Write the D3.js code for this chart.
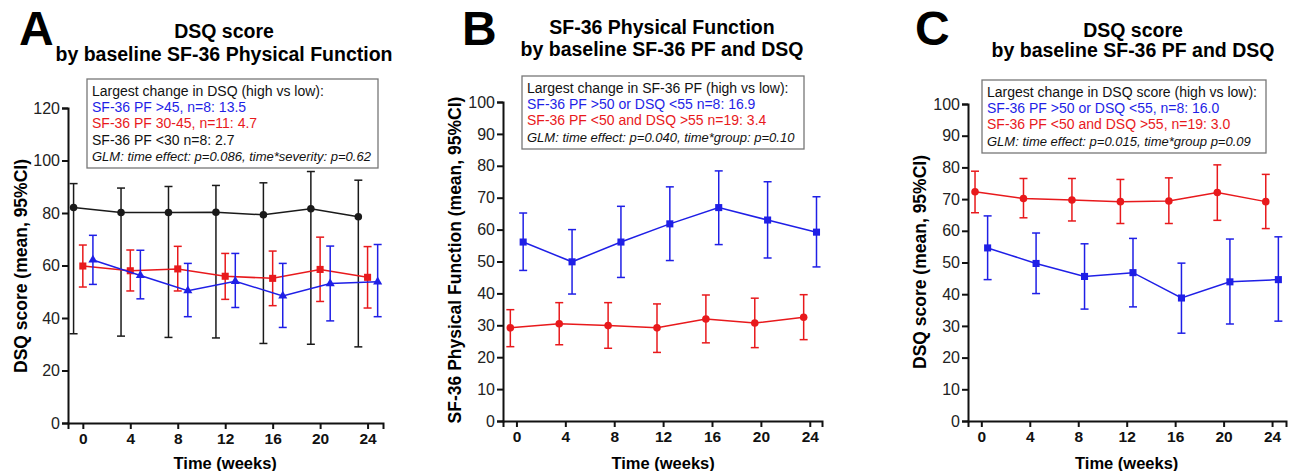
<!DOCTYPE html>
<html>
<head>
<meta charset="utf-8">
<script src="https://cdn.jsdelivr.net/npm/d3@7"></script>
<style>
  body { margin: 0; background: #fff; }
  svg { display: block; font-family: "Liberation Sans", Arial, Helvetica, sans-serif; }
</style>
</head>
<body>
<svg id="chart" width="1291" height="471"></svg>
<script>
// values (mean, lower and upper 95% CI)
const weeks = [0, 4, 8, 12, 16, 20, 24];
const xTicks = [0, 4, 8, 12, 16, 20, 24];

// panel A - DSQ by baseline PF (3 groups)
const aBlueMean = [62.1, 56.2, 50.4, 54.0, 48.4, 53.1, 53.8];
const aBlueLo   = [52.8, 47.3, 40.5, 44.0, 36.4, 38.9, 40.5];
const aBlueHi   = [71.5, 65.8, 60.8, 64.6, 60.8, 67.4, 68.0];
const aRedMean  = [59.8, 58.0, 58.7, 55.9, 55.1, 58.5, 55.5];
const aRedLo    = [51.8, 50.3, 50.3, 47.1, 44.7, 46.3, 43.8];
const aRedHi    = [67.8, 65.9, 67.3, 64.6, 65.5, 70.8, 67.2];
const aBlackMean = [82.1, 80.2, 80.2, 80.3, 79.3, 81.6, 78.6];
const aBlackLo   = [34.0, 33.1, 32.6, 32.4, 30.3, 30.0, 29.0];
const aBlackHi   = [91.2, 89.5, 90.1, 90.5, 91.5, 95.8, 92.5];

// panel B - SF-36 PF by baseline PF and DSQ
const bBlueMean = [56.1, 49.9, 56.1, 61.8, 66.9, 63.0, 59.2];
const bBlueLo   = [47.2, 39.8, 45.0, 50.3, 55.3, 51.1, 48.3];
const bBlueHi   = [65.2, 60.0, 67.3, 73.4, 78.4, 75.0, 70.3];
const bRedMean  = [29.2, 30.5, 29.9, 29.2, 32.0, 30.7, 32.5];
const bRedLo    = [23.3, 23.9, 22.8, 21.5, 24.5, 23.0, 25.5];
const bRedHi    = [34.9, 37.1, 37.1, 36.7, 39.5, 38.5, 39.6];

// panel C - DSQ by baseline PF and DSQ
const cBlueMean = [54.6, 49.7, 45.6, 46.8, 38.8, 43.9, 44.6];
const cBlueLo   = [44.6, 40.2, 35.3, 36.0, 27.7, 30.6, 31.5];
const cBlueHi   = [64.7, 59.3, 55.9, 57.6, 49.8, 57.4, 58.1];
const cRedMean  = [72.3, 70.2, 69.7, 69.2, 69.4, 72.1, 69.2];
const cRedLo    = [65.7, 64.1, 63.1, 62.3, 62.3, 63.3, 60.7];
const cRedHi    = [78.8, 76.5, 76.5, 76.2, 76.7, 80.8, 77.8];

const legendA = ["Largest change in DSQ (high vs low):", "SF-36 PF >45, n=8: 13.5",
  "SF-36 PF 30-45,  n=11: 4.7", "SF-36 PF <30 n=8: 2.7",
  "GLM: time effect: p=0.086, time*severity: p=0.62"];
const legendB = ["Largest change in SF-36 PF (high vs low):", "SF-36 PF >50 or DSQ <55 n=8: 16.9",
  "SF-36 PF <50 and DSQ >55 n=19: 3.4", "GLM: time effect: p=0.040, time*group: p=0.10"];
const legendC = ["Largest change in DSQ score (high vs low):", "SF-36 PF >50 or DSQ <55, n=8: 16.0",
  "SF-36 PF <50 and DSQ >55, n=19: 3.0", "GLM: time effect: p=0.015, time*group p=0.09"];

const BLUE = "#1f1fe6", RED = "#e8191c", BLACK = "#1a1a1a";

const svg = d3.select("#chart");

function zipSeries(mean, lo, hi) {
  return weeks.map(function(w, i) { return { w: w, m: mean[i], lo: lo[i], hi: hi[i] }; });
}

function drawPanel(p) {
  let g = svg.append("g");
  let x = d3.scaleLinear().domain(p.xDomain).range(p.xRange);
  let y = d3.scaleLinear().domain([0, p.yMax]).range(p.yRange);

  // axes
  let xa = g.append("g")
    .attr("transform", "translate(0," + p.yRange[0] + ")")
    .call(d3.axisBottom(x).tickValues(xTicks).tickSizeOuter(0).tickSize(6).tickPadding(4));
  xa.selectAll("text").attr("font-size", 15.5).attr("font-weight", "bold").attr("fill", "#111")
    .attr("font-family", "Liberation Sans, Arial, sans-serif");

  let ya = g.append("g")
    .attr("transform", "translate(" + p.xRange[0] + ",0)")
    .call(d3.axisLeft(y).ticks(p.yMax / p.yStep).tickSizeOuter(0).tickSize(6).tickPadding(2));
  ya.selectAll("text").attr("font-size", 16).attr("fill", "#222")
    .attr("font-family", "Liberation Sans, Arial, sans-serif");

  g.selectAll(".domain, .tick line").attr("stroke", "#111").attr("stroke-width", 2);

  // axis titles
  g.append("text")
    .attr("x", (x(0) + x(24)) / 2).attr("y", 469)
    .attr("text-anchor", "middle").attr("font-size", 16.5).attr("font-weight", "bold")
    .text("Time (weeks)");
  g.append("text")
    .attr("transform", "translate(" + p.yTitleX + "," + p.yTitleY + ") rotate(-90)")
    .attr("text-anchor", "middle").attr("font-size", 17.5).attr("font-weight", "bold")
    .text(p.yTitle);

  // panel letter + title
  g.append("text").attr("x", p.letterX).attr("y", 45)
    .attr("font-size", 48).attr("font-weight", "bold").text(p.letter);
  p.title.forEach(function(t, i) {
    g.append("text").attr("x", p.titleX).attr("y", p.titleY[i])
      .attr("text-anchor", "middle").attr("font-size", 19.5).attr("font-weight", "bold")
      .text(t);
  });

  // series
  p.series.forEach(function(s) {
    let data = zipSeries(s.mean, s.lo, s.hi);
    let px = function(d) { return x(d.w + s.dx); };
    let sg = g.append("g");

    sg.append("path").datum(data)
      .attr("fill", "none").attr("stroke", s.color).attr("stroke-width", 1.5)
      .attr("d", d3.line().x(px).y(function(d) { return y(d.m); }));

    let eb = sg.selectAll(".eb").data(data).enter().append("g");
    eb.append("line")
      .attr("x1", px).attr("x2", px)
      .attr("y1", function(d) { return y(d.lo); }).attr("y2", function(d) { return y(d.hi); })
      .attr("stroke", s.color).attr("stroke-width", 1.5);
    [function(d) { return y(d.lo); }, function(d) { return y(d.hi); }].forEach(function(fy) {
      eb.append("line")
        .attr("x1", function(d) { return px(d) - 4; }).attr("x2", function(d) { return px(d) + 4; })
        .attr("y1", fy).attr("y2", fy)
        .attr("stroke", s.color).attr("stroke-width", 1.5);
    });

    sg.selectAll(".mk").data(data).enter().append("path")
      .attr("transform", function(d) { return "translate(" + px(d) + "," + y(d.m) + ")"; })
      .attr("d", d3.symbol().type(s.symbol).size(s.size))
      .attr("fill", s.color);
  });

  // legend box
  let lg = g.append("g");
  lg.append("rect")
    .attr("x", p.box[0]).attr("y", p.box[1]).attr("width", p.box[2]).attr("height", p.box[3])
    .attr("fill", "#fff").attr("stroke", "#777").attr("stroke-width", 1.3);
  p.legend.forEach(function(t, i) {
    let last = i === p.legend.length - 1;
    lg.append("text")
      .attr("x", p.box[0] + 5).attr("y", p.box[1] + 17 + i * 16.2)
      .attr("font-size", last ? 13 : 14)
      .attr("font-style", last ? "italic" : "normal")
      .attr("fill", p.legendColors[i])
      .text(t);
  });
}

drawPanel({
  letter: "A", letterX: 19,
  title: ["DSQ score", "by baseline SF-36 Physical Function"], titleX: 224, titleY: [38, 61],
  xDomain: [-1.25, 25.3], xRange: [68, 383],
  yMax: 120, yStep: 20, yRange: [423, 108],
  yTitle: "DSQ score (mean, 95%CI)", yTitleX: 27, yTitleY: 266,
  box: [87, 79, 291, 89],
  legend: legendA, legendColors: ["#111", BLUE, RED, "#111", "#111"],
  series: [
    { mean: aBlackMean, lo: aBlackLo, hi: aBlackHi, color: BLACK, dx: -0.78, symbol: d3.symbolCircle, size: 45 },
    { mean: aRedMean, lo: aRedLo, hi: aRedHi, color: RED, dx: 0, symbol: d3.symbolSquare, size: 50 },
    { mean: aBlueMean, lo: aBlueLo, hi: aBlueHi, color: BLUE, dx: 0.85, symbol: d3.symbolTriangle, size: 36 }
  ]
});

drawPanel({
  letter: "B", letterX: 462,
  title: ["SF-36 Physical Function", "by baseline SF-36 PF and DSQ"], titleX: 662, titleY: [34, 56],
  xDomain: [-1.1, 25.0], xRange: [503, 822],
  yMax: 100, yStep: 10, yRange: [421, 102],
  yTitle: "SF-36 Physical Function (mean, 95%CI)", yTitleX: 461, yTitleY: 260,
  box: [522, 76, 282, 73],
  legend: legendB, legendColors: ["#111", BLUE, RED, "#111"],
  series: [
    { mean: bRedMean, lo: bRedLo, hi: bRedHi, color: RED, dx: -0.5, symbol: d3.symbolCircle, size: 45 },
    { mean: bBlueMean, lo: bBlueLo, hi: bBlueHi, color: BLUE, dx: 0.55, symbol: d3.symbolSquare, size: 50 }
  ]
});

drawPanel({
  letter: "C", letterX: 915,
  title: ["DSQ score", "by baseline SF-36 PF and DSQ"], titleX: 1133, titleY: [37, 57],
  xDomain: [-1.1, 25.15], xRange: [968, 1286],
  yMax: 100, yStep: 10, yRange: [421, 104],
  yTitle: "DSQ score (mean, 95%CI)", yTitleX: 926, yTitleY: 262,
  box: [982, 80, 284, 73],
  legend: legendC, legendColors: ["#111", BLUE, RED, "#111"],
  series: [
    { mean: cRedMean, lo: cRedLo, hi: cRedHi, color: RED, dx: -0.52, symbol: d3.symbolCircle, size: 45 },
    { mean: cBlueMean, lo: cBlueLo, hi: cBlueHi, color: BLUE, dx: 0.52, symbol: d3.symbolSquare, size: 50 }
  ]
});
</script>
</body>
</html>
